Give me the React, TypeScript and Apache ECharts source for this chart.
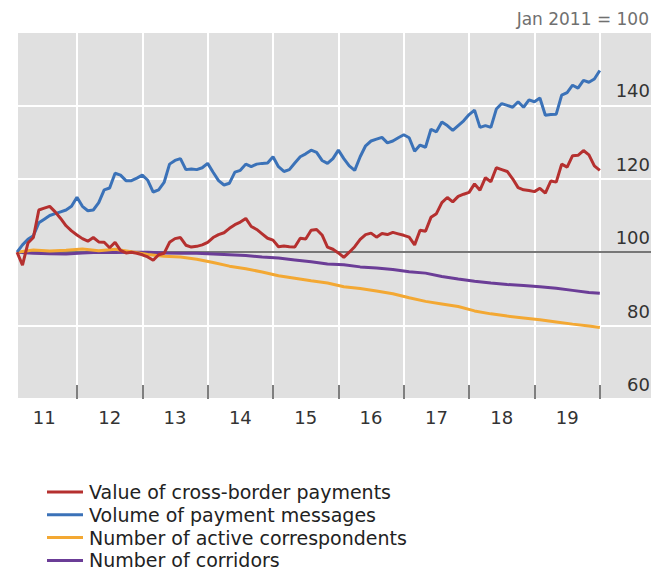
import React, { useEffect, useRef } from "react";
import * as echarts from "echarts";

// x values are months since Jan 2011 (0 = Jan 2011)
const FIRST_MONTH = 1;
const X_MAX = 117.4;
const YEAR_LABELS = ["11", "12", "13", "14", "15", "16", "17", "18", "19"];
const YEAR_LABEL_POS = [6, 18, 30, 42, 54, 66, 78, 90, 102];
const YEAR_TICKS = [12, 24, 36, 48, 60, 72, 84, 96, 108];
const Y_MIN = 60;
const Y_MAX = 160;
const Y_STEP = 20;
const BASE_VALUE = 100;

const SERIES_NAMES = [
  "Value of cross-border payments",
  "Volume of payment messages",
  "Number of active correspondents",
  "Number of corridors",
];

// monthly, Feb 2011 .. Jan 2020
const VALUE_PAYMENTS = [
  100, 96.5, 102.5, 104, 111.5, 112, 112.5, 111, 109.2, 107.2, 105.8, 104.7,
  103.7, 103, 104, 102.8, 102.7, 101.2, 102.7, 100.5, 99.8, 100, 99.7, 99.3,
  98.7, 97.8, 99.3, 99.7, 102.7, 103.7, 104, 101.9, 101.4, 101.6, 102, 102.7,
  104, 104.8, 105.3, 106.5, 107.5, 108.2, 109.2, 107, 106.2, 105, 103.8, 103.3,
  101.5, 101.7, 101.5, 101.4, 103.8, 103.6, 106, 106.2, 104.7, 101.4, 100.8, 99.8,
  98.6, 100, 101.5, 103.5, 104.8, 105.2, 104.1, 105.1, 104.8, 105.4, 105, 104.6,
  104.1, 102, 106, 105.7, 109.5, 110.5, 113.5, 114.9, 113.7, 115.2, 115.8, 116.3,
  118.6, 116.9, 120.3, 119.2, 123, 122.5, 122, 120, 117.6, 117, 116.8, 116.5,
  117.4, 116.1, 119.4, 119.1, 124, 123.2, 126.3, 126.4, 127.7, 126.5, 123.5, 122.3,
];

const VOLUME_MESSAGES = [
  100, 102, 103.5, 104.5, 108, 109, 110, 110.5, 111, 111.5, 112.5, 115,
  112.5, 111.3, 111.5, 113.5, 117, 117.5, 121.5, 121, 119.5, 119.5, 120.2, 121,
  119.6, 116.4, 117, 119, 124, 125, 125.5, 122.5, 122.7, 122.5, 123, 124.2,
  121.8, 119.5, 118.3, 118.8, 121.8, 122.3, 124, 123.3, 124, 124.2, 124.3, 126,
  123.3, 122, 122.5, 124.3, 126, 126.8, 127.8, 127.2, 125, 124.2, 125.5, 127.8,
  125.5, 123.5, 122.3, 126, 129, 130.3, 130.8, 131.3, 129.8, 130.3, 131.2, 132,
  131.2, 127.5, 129.2, 128.6, 133.5, 132.8, 135.5, 134.5, 133.2, 134.5, 135.8, 137.5,
  138.7, 134, 134.5, 134, 139, 140.5, 140, 139.5, 141, 139.5, 141.5, 141,
  142, 137.3, 137.5, 137.6, 142.8, 143.5, 145.5, 144.7, 146.8, 146.3, 147.2, 149.5,
];

// quarterly readings
const QUARTER_MONTHS = [
  1, 4, 7, 10, 13, 16, 19, 22, 25, 28, 31, 34, 37, 40, 43, 46, 49, 52, 55,
  58, 61, 64, 67, 70, 73, 76, 79, 82, 85, 88, 91, 94, 97, 100, 103, 106, 108,
];
const ACTIVE_CORRESPONDENTS = [
  100, 100.6, 100.3, 100.5, 100.9, 100.4, 100.8, 100.1, 99.4, 98.9, 98.7, 98.1,
  97.2, 96.2, 95.5, 94.6, 93.6, 92.9, 92.2, 91.6, 90.6, 90.1, 89.4, 88.7, 87.6,
  86.6, 85.9, 85.2, 84.0, 83.2, 82.6, 82.1, 81.6, 81.0, 80.4, 79.9, 79.5,
];
const CORRIDORS = [
  100, 99.7, 99.6, 99.5, 99.8, 100, 99.9, 100, 100, 99.8, 99.7, 99.7, 99.5,
  99.3, 99.1, 98.7, 98.4, 97.9, 97.4, 96.8, 96.6, 96.0, 95.7, 95.3, 94.7, 94.3,
  93.4, 92.7, 92.1, 91.6, 91.2, 90.9, 90.6, 90.2, 89.6, 89.0, 88.8,
];

const COLORS = ["#b5302f", "#3b72b8", "#f3a833", "#6b3d97"];
const FONT = "DejaVu Sans";

function monthly(values: number[]) {
  return values.map((v, i) => [FIRST_MONTH + i, v]);
}
function quarterly(values: number[]) {
  return values.map((v, i) => [QUARTER_MONTHS[i], v]);
}

export default function App() {
  const ref = useRef<HTMLDivElement>(null);
  useEffect(() => {
    document.body.style.margin = "0";
    const chart = echarts.init(ref.current!, null, { renderer: "svg" });
    const lineSeries = (name: string, data: number[][], color: string, z: number, extra: any = {}) => ({
      type: "line",
      name,
      data,
      showSymbol: false,
      symbol: "none",
      z,
      lineStyle: { width: 3, color },
      itemStyle: { color },
      ...extra,
    });
    chart.setOption({
      animation: false,
      grid: { left: 11.6, right: 0, top: 32, bottom: 183, outerBoundsMode: "none" },
      graphic: [
        {
          type: "rect",
          z: -10,
          silent: true,
          shape: { x: 18, y: 32, width: 633, height: 367 },
          style: { fill: "#e0e0e0" },
        },
        {
          type: "text",
          x: 649,
          y: 19,
          style: {
            text: "Jan 2011 = 100",
            align: "right",
            verticalAlign: "middle",
            fill: "#707070",
            font: `17px "${FONT}"`,
          },
        },
      ],
      xAxis: {
        type: "value",
        min: 0,
        max: X_MAX,
        interval: 12,
        axisLine: { show: false },
        axisTick: {
          show: true,
          inside: true,
          length: 14,
          customValues: YEAR_TICKS,
          lineStyle: { color: "#555", width: 1.5 },
        },
        axisLabel: {
          customValues: YEAR_LABEL_POS,
          formatter: (v: number) => {
            const i = YEAR_LABEL_POS.indexOf(v);
            return i >= 0 ? YEAR_LABELS[i] : "";
          },
          color: "#333",
          fontSize: 18,
          fontFamily: FONT,
          margin: 9,
        },
        splitLine: { show: true, lineStyle: { color: "#ffffff", width: 2 } },
      },
      yAxis: {
        type: "value",
        position: "right",
        min: Y_MIN,
        max: Y_MAX,
        interval: Y_STEP,
        axisLine: { show: false },
        axisTick: { show: false },
        axisLabel: {
          inside: true,
          margin: 1,
          formatter: (v: number) => (v === Y_MAX ? "" : String(v)),
          verticalAlign: "bottom",
          lineHeight: 29,
          color: "#333",
          fontSize: 18,
          fontFamily: FONT,
        },
        splitLine: { show: true, lineStyle: { color: "#ffffff", width: 2 } },
      },
      legend: {
        orient: "vertical",
        left: 42,
        top: 477,
        icon: "rect",
        itemWidth: 36,
        itemHeight: 3,
        itemGap: 2.8,
        selectedMode: false,
        data: SERIES_NAMES,
        textStyle: {
          fontSize: 19,
          lineHeight: 20,
          color: "#222",
          fontFamily: FONT,
          padding: [0, 0, 0, 1],
        },
      },
      series: [
        lineSeries(SERIES_NAMES[3], quarterly(CORRIDORS), COLORS[3], 2, {
          markLine: {
            silent: true,
            symbol: "none",
            z: 1,
            label: { show: false },
            lineStyle: { color: "#4a4a4a", width: 1.5, type: "solid" },
            data: [[{ coord: [1.17, BASE_VALUE] }, { coord: [X_MAX, BASE_VALUE] }]],
          },
        }),
        lineSeries(SERIES_NAMES[2], quarterly(ACTIVE_CORRESPONDENTS), COLORS[2], 3),
        lineSeries(SERIES_NAMES[1], monthly(VOLUME_MESSAGES), COLORS[1], 4),
        lineSeries(SERIES_NAMES[0], monthly(VALUE_PAYMENTS), COLORS[0], 5),
      ],
    });
    return () => chart.dispose();
  }, []);
  return <div ref={ref} style={{ width: 651, height: 582 }} />;
}
